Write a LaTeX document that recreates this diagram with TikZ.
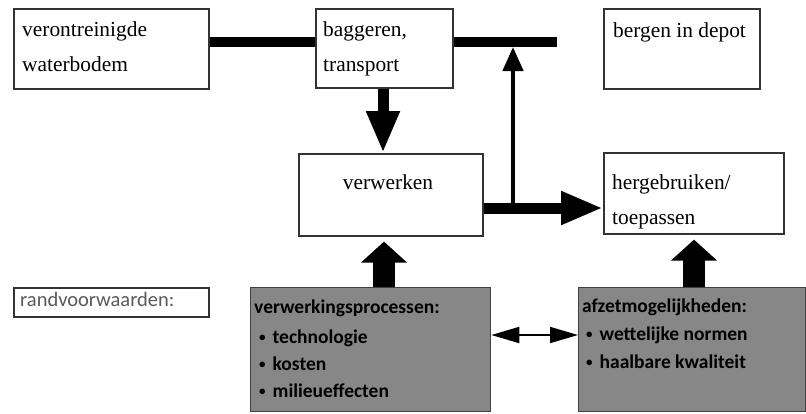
\documentclass[tikz,border=0pt]{standalone}
\usepackage{fontspec}
\setmainfont{Liberation Serif}
\newfontfamily\carl{Carlito}
\usetikzlibrary{arrows.meta}
\newcommand{\smbul}{{\fontsize{13}{13}\selectfont\raisebox{1.5pt}{•}}\hspace{7pt}}
\tikzset{
  box/.style={draw=black!80, line width=1.6pt, fill=white, rectangle, inner sep=0pt, anchor=north west},
  shade/.style={draw=black!75, line width=1.3pt, fill=black!47, rectangle, inner sep=0pt, anchor=north west},
  txt/.style={anchor=base west, inner sep=0pt, font=\fontsize{21.4}{26}\selectfont},
  ctxt/.style={anchor=base, inner sep=0pt, font=\fontsize{21.4}{26}\selectfont},
  stxt/.style={anchor=base west, inner sep=0pt, font=\carl\bfseries\fontsize{19.5}{24}\selectfont, text=black},
  rtxt/.style={anchor=base west, inner sep=0pt, font=\carl\fontsize{20.5}{24}\selectfont, text=black!65},
  thick line/.style={line width=10.5pt, black},
  fat arrow/.style={line width=11pt, black, -{Triangle[width=31pt,length=42pt]}},
  thin arrow/.style={line width=4.5pt, black, -{Triangle[width=20pt,length=24pt]}},
  block arrow/.style={line width=22pt, black, -{Triangle[width=45pt,length=21pt]}, shorten >=5pt},
  both arrow/.style={line width=1.8pt, black, {Triangle[width=16pt,length=28pt]}-{Triangle[width=16pt,length=28pt]}}
}
\begin{document}
\begin{tikzpicture}[x=1pt,y=-1pt]
\useasboundingbox (0,0) rectangle (806,413);

% boxes
\node[box, minimum width=195pt, minimum height=80pt] (A) at (13,8) {};
\node[box, minimum width=137pt, minimum height=79pt] (B) at (315,8) {};
\node[box, minimum width=156pt, minimum height=80pt] (C) at (603,8) {};
\node[box, minimum width=184pt, minimum height=82pt] (D) at (298,153) {};
\node[box, minimum width=180pt, minimum height=81pt] (E) at (603,152) {};
\node[box, minimum width=195pt, minimum height=29pt] (R) at (13,287) {};
\node[shade, minimum width=240pt, minimum height=124pt] (F) at (250,287) {};
\node[shade, minimum width=227pt, minimum height=124pt] (G) at (578,287) {};

% texts
\node[txt] (a1) at (22,36) {verontreinigde};
\node[txt] (a2) at (22,71) {waterbodem};
\node[txt] (b1) at (323,36) {baggeren,};
\node[txt] (b2) at (323,71) {transport};
\node[txt] (c1) at (613,37) {bergen in depot};
\node[ctxt] (d1) at (388,189) {verwerken};
\node[txt] (e1) at (612,189) {hergebruiken/};
\node[txt] (e2) at (612,224) {toepassen};
\node[rtxt] (r1) at (20,306) {randvoorwaarden:};
\node[stxt] (f1) at (254,313) {verwerkingsprocessen:};
\node[stxt] (f2) at (259,343) {\smbul technologie};
\node[stxt] (f3) at (259,370) {\smbul kosten};
\node[stxt] (f4) at (259,397) {\smbul milieueffecten};
\node[stxt] (g1) at (582,312) {afzetmogelijkheden:};
\node[stxt] (g2) at (586,340) {\smbul wettelijke normen};
\node[stxt] (g3) at (586,368) {\smbul haalbare kwaliteit};

% helper coordinates
\coordinate (ly) at (0,42);
\coordinate (lend) at (557,42);
\coordinate (dy) at (0,208);
\coordinate (jx) at (513,0);
\coordinate (tip) at (513,47);
\coordinate (bx) at (383,0);
\coordinate (u1) at (384,0);
\coordinate (u2) at (694,0);

% connectors
\draw[thick line] (A.east |- ly) -- (B.west |- ly);
\draw[thick line] (B.east |- ly) -- (lend);
\draw[fat arrow] (bx |- B.south) -- (bx |- D.north);
\draw[fat arrow] (D.east |- dy) -- (E.west |- dy);
\draw[thin arrow] (jx |- dy) -- (tip);
\draw[block arrow] (u1 |- F.north) -- (u1 |- D.south);
\draw[block arrow] (u2 |- G.north) -- (u2 |- E.south);
\draw[both arrow] (F.east |- 0,335) -- (G.west |- 0,335);
\end{tikzpicture}
\end{document}
